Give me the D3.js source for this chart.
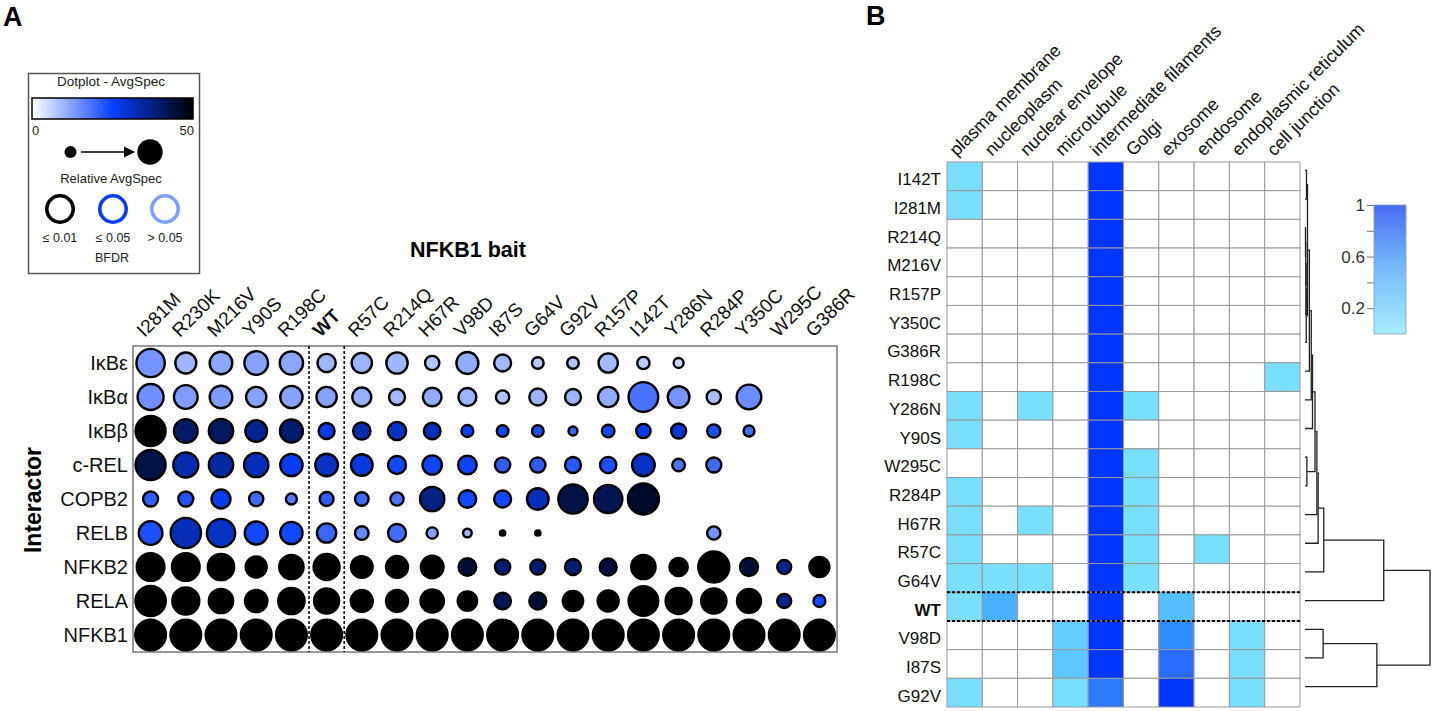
<!DOCTYPE html>
<html><head><meta charset="utf-8">
<script src="https://cdn.jsdelivr.net/npm/d3@7"></script>
<style>
body{margin:0;background:#fff;}
svg{font-family:"Liberation Sans",Arial,Helvetica,sans-serif;display:block;}
</style></head><body>
<svg id="c" width="1436" height="711"></svg>
<script>
// ---------- Panel A data ----------
const baits = ["I281M","R230K","M216V","Y90S","R198C","WT","R57C","R214Q","H67R","V98D","I87S","G64V","G92V","R157P","I142T","Y286N","R284P","Y350C","W295C","G386R"];
const interactors = ["IκBε","IκBα","IκBβ","c-REL","COPB2","RELB","NFKB2","RELA","NFKB1"];
// relative AvgSpec (dot size), null = not detected
const relAvgSpec = [
  [.92,.70,.75,.78,.77,.62,.68,.71,.50,.73,.58,.42,.42,.65,.44,.37,null,null,null,null],
  [.85,.78,.75,.68,.74,.68,.64,.55,.63,.61,.47,.58,.55,.68,.96,.72,.50,.81,null,null],
  [.97,.78,.80,.72,.76,.55,.59,.62,.57,.43,.42,.42,.34,.45,.50,.52,.47,.40,null,null],
  [.97,.82,.80,.80,.74,.75,.72,.61,.65,.63,.53,.53,.55,.56,.75,.45,.52,null,null,null],
  [.52,.52,.64,.50,.40,.49,.48,.47,.80,.60,.58,.72,.95,.92,1.0,null,null,null,null,null],
  [.78,.98,.92,.76,.74,.65,.48,.61,.41,.33,.23,.23,null,null,null,null,.47,null,null,null],
  [.90,.90,.86,.70,.80,.85,.72,.73,.75,.60,.53,.52,.55,.58,.80,.62,1.0,.61,.49,.67],
  [.98,.88,.80,.74,.86,.82,.73,.73,.77,.65,.57,.58,.68,.70,.96,.85,.83,.79,.49,.43],
  [.99,.99,.99,.99,.99,.99,.99,.99,.99,.99,.99,.99,.99,.99,.99,.99,.99,.99,.99,.99]
];
// AvgSpec (dot colour, 0-50)
const avgSpec = [
  [14,9.5,11.5,12,11.5,9.5,10,9.5,7.7,11,9.3,7,7.7,9.3,7,5.5,null,null,null,null],
  [14.5,13,13,12,12,12,10.5,9,11,10,8,10,10,11,18.5,14,8.5,15,null,null],
  [50,40,41,36,39,27,33,31,32,25,24,23,20,24,27,29,23,19,null,null],
  [43,33,34,32,26,31,28,24,24.5,24.5,21,21,22,23,31,18,19.5,null,null,null],
  [21,22.5,26.5,19.5,17,21,19.5,18,37.5,24,24,32,43,42,46,null,null,null,null,null],
  [23,32,31,24,24,20,15.5,19,12,9.5,50,50,null,null,null,null,14,null,null,null],
  [50,50,50,50,50,50,50,50,50,45,39,39,39,44,50,50,50,45,36,50],
  [50,50,50,50,50,50,50,50,50,50,42,45,50,50,50,50,50,50,36,24],
  [50,50,50,50,50,50,50,50,50,50,50,50,50,50,50,50,50,50,50,50]
];
const bfdrLabels = ["≤ 0.01","≤ 0.05","> 0.05"];

// ---------- Panel B data ----------
const locations = ["plasma membrane","nucleoplasm","nuclear envelope","microtubule","intermediate filaments","Golgi","exosome","endosome","endoplasmic reticulum","cell junction"];
const mutants = ["I142T","I281M","R214Q","M216V","R157P","Y350C","G386R","R198C","Y286N","Y90S","W295C","R284P","H67R","R57C","G64V","WT","V98D","I87S","G92V"];
const enrichment = [
  [.1,0,0,0,1,0,0,0,0,0],
  [.1,0,0,0,1,0,0,0,0,0],
  [0,0,0,0,1,0,0,0,0,0],
  [0,0,0,0,1,0,0,0,0,0],
  [0,0,0,0,1,0,0,0,0,0],
  [0,0,0,0,1,0,0,0,0,0],
  [0,0,0,0,1,0,0,0,0,0],
  [0,0,0,0,1,0,0,0,0,.1],
  [.1,0,.1,0,1,.1,0,0,0,0],
  [.1,0,0,0,1,0,0,0,0,0],
  [0,0,0,0,1,.1,0,0,0,0],
  [.1,0,0,0,1,.1,0,0,0,0],
  [.1,0,.1,0,1,.1,0,0,0,0],
  [.1,0,0,0,1,.1,0,.1,0,0],
  [.1,.1,.1,0,1,.1,0,0,0,0],
  [.1,.42,0,0,1,0,.35,0,0,0],
  [0,0,0,.26,1,0,.6,0,.1,0],
  [0,0,0,.29,1,0,.8,0,.1,0],
  [.1,0,0,.1,.7,0,1,0,.1,0]
];
const legendTicks = [0.2,0.4,0.6,0.8,1];
const legendLabels = [0.2,0.6,1];
// linkage: [childA, childB, height]; "mN" refers to merge N
const linkage = [
  ["R214Q","M216V",0.004],
  ["m0","R157P",0.006],
  ["m1","Y350C",0.008],
  ["m2","G386R",0.010],
  ["I142T","I281M",0.012],
  ["m4","m3",0.02],
  ["m5","R198C",0.035],
  ["m6","Y286N",0.05],
  ["m7","Y90S",0.06],
  ["W295C","R284P",0.015],
  ["m8","m9",0.08],
  ["m10","H67R",0.095],
  ["m11","R57C",0.105],
  ["m12","G64V",0.15],
  ["m13","WT",0.63],
  ["V98D","I87S",0.145],
  ["m15","G92V",0.575],
  ["m14","m16",1.0]
];

// ---------- drawing ----------
const svg = d3.select("#c");
svg.append("text").attr("x",3).attr("y",26).attr("font-size",27).attr("font-weight","bold").text("A");
svg.append("text").attr("x",866).attr("y",25).attr("font-size",27).attr("font-weight","bold").text("B");

const x = d3.scaleBand().domain(baits).range([133,837]);
const y = d3.scaleBand().domain(interactors).range([346,652]);
const rScale = d3.scaleLinear().domain([0,1]).range([0,16.7]);
const color = d3.scaleLinear().domain([0,25,50]).range(["#ffffff","#0840ff","#000000"]);
const sw = 2.4;

const gA = svg.append("g");
gA.append("rect").attr("x",x.range()[0]).attr("y",y.range()[0])
  .attr("width",x.range()[1]-x.range()[0]).attr("height",y.range()[1]-y.range()[0])
  .attr("fill","#fff").attr("stroke","#777").attr("stroke-width",1.5);
[x("WT"), x("WT")+x.bandwidth()].forEach(v=>{
  gA.append("line").attr("x1",v).attr("x2",v).attr("y1",y.range()[0]).attr("y2",y.range()[1])
    .attr("stroke","#000").attr("stroke-width",1.5).attr("stroke-dasharray","3,2");
});
const cells = [];
interactors.forEach((it,i)=>baits.forEach((b,j)=>{
  if(relAvgSpec[i][j]!=null) cells.push({it,b,rel:relAvgSpec[i][j],avg:avgSpec[i][j]});
}));
gA.selectAll("circle.dot").data(cells).join("circle").attr("class","dot")
  .attr("cx",d=>x(d.b)+x.bandwidth()/2).attr("cy",d=>y(d.it)+y.bandwidth()/2)
  .attr("r",d=>Math.max(rScale(d.rel)-sw/2,1.2))
  .attr("fill",d=>color(d.avg)).attr("stroke","#000").attr("stroke-width",sw);

gA.selectAll("text.col").data(baits).join("text").attr("class","col")
  .attr("transform",d=>`translate(${x(d)+x.bandwidth()/2-6},338) rotate(-45)`)
  .attr("font-size",19).attr("font-weight",d=>d==="WT"?"bold":"normal").attr("fill","#111").text(d=>d);
gA.selectAll("text.row").data(interactors).join("text").attr("class","row")
  .attr("x",128).attr("y",d=>y(d)+y.bandwidth()/2+7).attr("text-anchor","end")
  .attr("font-size",20).attr("fill","#111").text(d=>d);
gA.append("text").attr("transform","translate(41,500) rotate(-90)").attr("text-anchor","middle")
  .attr("font-size",23).attr("font-weight","bold").text("Interactor");
gA.append("text").attr("x",468).attr("y",257).attr("text-anchor","middle")
  .attr("font-size",21.5).attr("font-weight","bold").text("NFKB1 bait");

// legend A
const lg = svg.append("g");
lg.append("rect").attr("x",28.5).attr("y",73.5).attr("width",171).attr("height",200)
  .attr("fill","#fff").attr("stroke","#555").attr("stroke-width",1.5);
lg.append("text").attr("x",111).attr("y",86).attr("text-anchor","middle").attr("font-size",13.5).attr("fill","#222").text("Dotplot - AvgSpec");
const defs = svg.append("defs");
const grad = defs.append("linearGradient").attr("id","gA");
d3.range(0,51,5).forEach(v=>grad.append("stop").attr("offset",(v/50*100)+"%").attr("stop-color",color(v)));
lg.append("rect").attr("x",32).attr("y",98).attr("width",161).attr("height",21)
  .attr("fill","url(#gA)").attr("stroke","#000").attr("stroke-width",1.5);
lg.append("text").attr("x",32).attr("y",135).attr("font-size",13).attr("fill","#222").text(color.domain()[0]);
lg.append("text").attr("x",194).attr("y",135).attr("text-anchor","end").attr("font-size",13).attr("fill","#222").text(color.domain()[2]);
lg.append("circle").attr("cx",70.5).attr("cy",152).attr("r",6).attr("fill","#000");
defs.append("marker").attr("id","arr").attr("viewBox","0 0 10 10").attr("refX",9).attr("refY",5)
  .attr("markerWidth",7).attr("markerHeight",7).attr("orient","auto")
  .append("path").attr("d","M0,0L10,5L0,10z").attr("fill","#000");
lg.append("line").attr("x1",81).attr("x2",134).attr("y1",152).attr("y2",152)
  .attr("stroke","#000").attr("stroke-width",1.6).attr("marker-end","url(#arr)");
lg.append("circle").attr("cx",150).attr("cy",152).attr("r",12.7).attr("fill","#000");
lg.append("text").attr("x",111).attr("y",183).attr("text-anchor","middle").attr("font-size",13).attr("fill","#222").text("Relative AvgSpec");
const ringColors = ["#000000","#0a3cff","#809fff"];
const ringX = [60,113,165];
bfdrLabels.forEach((t,i)=>{
  lg.append("circle").attr("cx",ringX[i]).attr("cy",209).attr("r",13.2).attr("fill","none")
    .attr("stroke",ringColors[i]).attr("stroke-width",3.6);
  lg.append("text").attr("x",ringX[i]).attr("y",242).attr("text-anchor","middle").attr("font-size",12.5).attr("fill","#222").text(t);
});
lg.append("text").attr("x",112).attr("y",262).attr("text-anchor","middle").attr("font-size",12.5).attr("fill","#222").text("BFDR");

// ---------- Panel B ----------
const hx = d3.scaleBand().domain(locations).range([947,1300]);
const hy = d3.scaleBand().domain(mutants).range([162,707]);
const heat = d3.scaleLinear().domain([0.1,0.35,0.6,0.8,1]).range(["#7adfff","#55bfff","#2f8cff","#2a6cff","#0036ff"]);
const gB = svg.append("g");
const hcells = [];
mutants.forEach((m,i)=>locations.forEach((l,j)=>hcells.push({m,l,v:enrichment[i][j]})));
gB.selectAll("rect.cell").data(hcells).join("rect").attr("class","cell")
  .attr("x",d=>hx(d.l)).attr("y",d=>hy(d.m)).attr("width",hx.bandwidth()).attr("height",hy.bandwidth())
  .attr("fill",d=>d.v>0?heat(d.v):"#fff").attr("stroke","#999").attr("stroke-width",1);
[hy("WT"), hy("WT")+hy.bandwidth()].forEach(v=>{
  gB.append("line").attr("x1",hx.range()[0]).attr("x2",hx.range()[1]).attr("y1",v).attr("y2",v)
    .attr("stroke","#000").attr("stroke-width",2).attr("stroke-dasharray","3,2");
});
gB.selectAll("text.hrow").data(mutants).join("text").attr("class","hrow")
  .attr("x",941).attr("y",d=>hy(d)+hy.bandwidth()/2+9).attr("text-anchor","end")
  .attr("font-size",17).attr("font-weight",d=>d==="WT"?"bold":"normal").attr("fill","#111").text(d=>d);
gB.selectAll("text.hcol").data(locations).join("text").attr("class","hcol")
  .attr("transform",d=>`translate(${hx(d)+hx.bandwidth()/2-8},157) rotate(-45)`)
  .attr("font-size",18).attr("fill","#111").text(d=>d);

// dendrogram
const dx = d3.scaleLinear().domain([0,1]).range([1305,1430]);
const nodes = {};
mutants.forEach(m=>nodes[m]={x:dx(0),y:hy(m)+hy.bandwidth()/2-6});
const dg = gB.append("g").attr("fill","none").attr("stroke","#222").attr("stroke-width",1.3);
linkage.forEach((lk,i)=>{
  const a=nodes[lk[0]], b=nodes[lk[1]], hX=dx(lk[2]);
  dg.append("path").attr("d",`M${a.x},${a.y}H${hX}V${b.y}H${b.x}`);
  nodes["m"+i]={x:hX,y:(a.y+b.y)/2};
});

// colour legend B
const ly = d3.scaleLinear().domain([0,1]).range([334,205]);
const gradB = defs.append("linearGradient").attr("id","gB").attr("x1",0).attr("y1",1).attr("x2",0).attr("y2",0);
gradB.append("stop").attr("offset","0%").attr("stop-color","#a8ecff");
gradB.append("stop").attr("offset","50%").attr("stop-color","#78bdfb");
gradB.append("stop").attr("offset","100%").attr("stop-color","#4a6cf5");
gB.append("rect").attr("x",1374).attr("y",ly(1)).attr("width",32).attr("height",ly(0)-ly(1))
  .attr("fill","url(#gB)").attr("stroke","#8a9acc").attr("stroke-width",0.8);
const ax = gB.append("g").attr("transform","translate(1374,0)")
  .call(d3.axisLeft(ly).tickValues(legendTicks).tickSize(7).tickPadding(2)
    .tickFormat(d=>legendLabels.includes(d)?d3.format("~g")(d):""));
ax.select(".domain").remove();
ax.selectAll(".tick line").attr("stroke","#777");
ax.selectAll(".tick text").attr("font-size",17).attr("fill","#333").attr("font-family","'Liberation Sans',Arial,sans-serif");
</script>
</body></html>
